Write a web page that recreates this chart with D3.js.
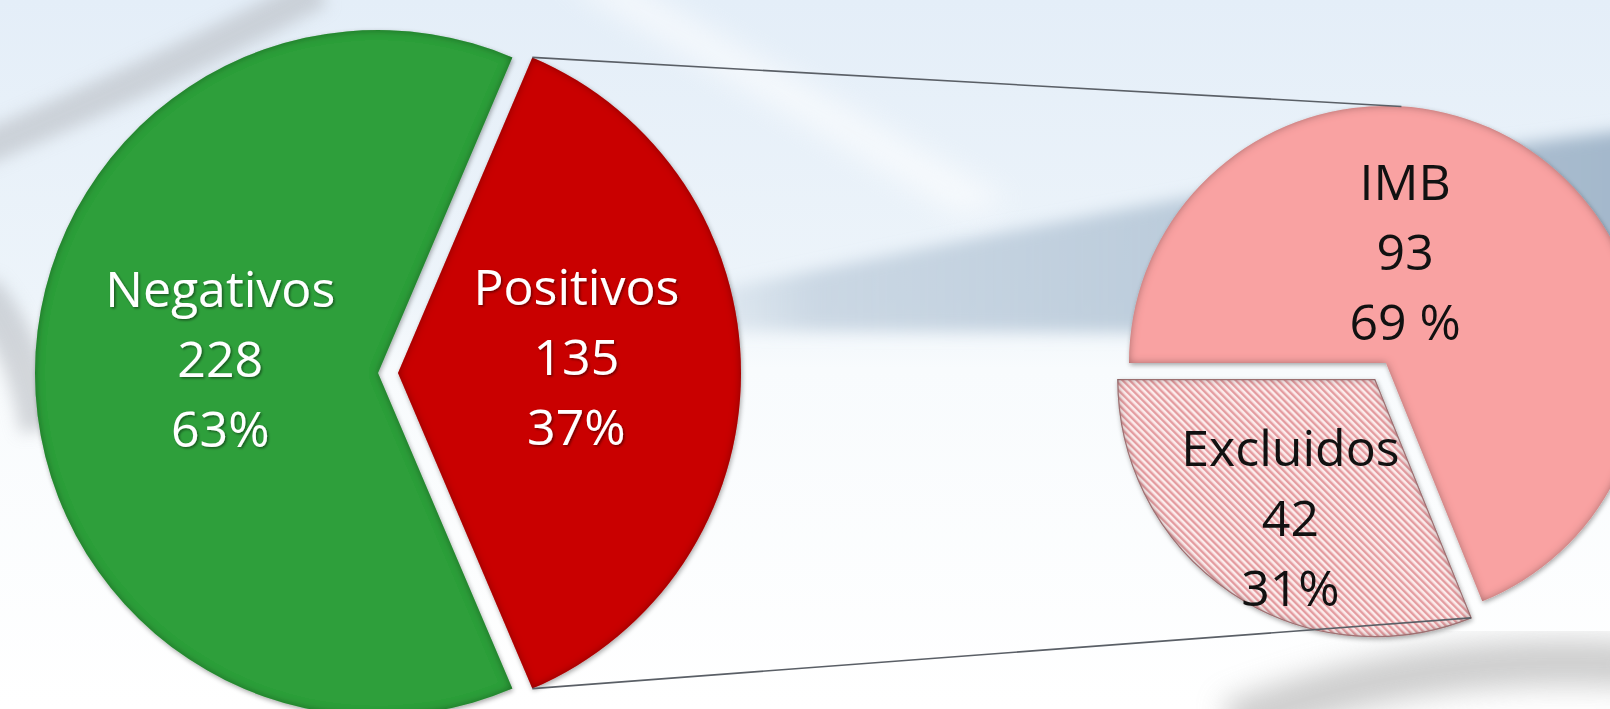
<!DOCTYPE html>
<html><head><meta charset="utf-8">
<script src="https://cdn.jsdelivr.net/npm/d3@7"></script>
<style>html,body{margin:0;padding:0;overflow:hidden;background:#fff}</style>
</head><body><svg id="chart" width="1610" height="709"></svg>
<script>
// ---- data ----
const mainCategories = ["Negativos", "Positivos"];
const mainValues = [228, 135];
const mainPercentLabels = ["63%", "37%"];
const subCategories = ["IMB", "Excluidos"];
const subValues = [93, 42];
const subPercentLabels = ["69 %", "31%"];

// ---- layout / style ----
const W = 1610, H = 709;
const mainColors = ["#2f9f3b", "#c90000"];
const subFills = ["#f9a2a2", "url(#hatch)"];
const MAIN = {cx: 378, cy: 373, r: 343, explode: [0, 20], labelR: [0.46, 0.52], labelDy: [-14, -16]};
const SUB = {cx: 1386, cy: 363, r: 257, explode: [0, 20], topAngle: 0.06};
const FS = 50, LH = 70;

const svg = d3.select("#chart");
const defs = svg.append("defs");

// background gradient
const bg = defs.append("linearGradient").attr("id", "bg").attr("x1", 0).attr("y1", 0).attr("x2", 0).attr("y2", 1);
[[0, "#e4eef8"], [0.42, "#edf4fa"], [0.52, "#f8fbfd"], [1, "#ffffff"]].forEach(s => bg.append("stop").attr("offset", s[0]).attr("stop-color", s[1]));
const band = defs.append("linearGradient").attr("id", "band").attr("x1", 0).attr("y1", 0).attr("x2", 1).attr("y2", 0);
[[0, "#b5c6d6", 0], [0.18, "#b3c4d5", 0.6], [0.6, "#adc0d2", 0.8], [1, "#9fb4c8", 0.95]].forEach(s => band.append("stop").attr("offset", s[0]).attr("stop-color", s[1]).attr("stop-opacity", s[2]));
[["blur8", 8], ["blur14", 14], ["blur20", 20]].forEach(b => defs.append("filter").attr("id", b[0]).attr("x", "-50%").attr("y", "-50%").attr("width", "200%").attr("height", "200%")
  .append("feGaussianBlur").attr("stdDeviation", b[1]));

// hatch pattern
const pat = defs.append("pattern").attr("id", "hatch").attr("patternUnits", "userSpaceOnUse")
  .attr("width", 5).attr("height", 5).attr("patternTransform", "rotate(-45)");
pat.append("rect").attr("width", 5).attr("height", 5).attr("fill", "#fcecec");
pat.append("rect").attr("width", 2.4).attr("height", 5).attr("fill", "#e49ca0");

// slice filter: inner shadow + small drop shadow
const f = defs.append("filter").attr("id", "slice").attr("x", "-10%").attr("y", "-10%").attr("width", "120%").attr("height", "120%");
f.append("feGaussianBlur").attr("in", "SourceAlpha").attr("stdDeviation", 2.5).attr("result", "db");
f.append("feOffset").attr("in", "db").attr("dx", 1).attr("dy", 2).attr("result", "dbo");
f.append("feComponentTransfer").attr("in", "dbo").attr("result", "drop").append("feFuncA").attr("type", "linear").attr("slope", 0.35);
f.append("feFlood").attr("flood-color", "#000").attr("flood-opacity", 0.65).attr("result", "fl");
f.append("feComposite").attr("in", "fl").attr("in2", "SourceAlpha").attr("operator", "out").attr("result", "outside");
f.append("feGaussianBlur").attr("in", "outside").attr("stdDeviation", 4).attr("result", "ob");
f.append("feComposite").attr("in", "ob").attr("in2", "SourceAlpha").attr("operator", "in").attr("result", "inner");
const fm = f.append("feMerge");
fm.append("feMergeNode").attr("in", "drop");
fm.append("feMergeNode").attr("in", "SourceGraphic");
fm.append("feMergeNode").attr("in", "inner");

// text shadow
const ts = defs.append("filter").attr("id", "tshadow").attr("x", "-10%").attr("y", "-30%").attr("width", "120%").attr("height", "160%");
ts.append("feDropShadow").attr("dx", 1.5).attr("dy", 1.5).attr("stdDeviation", 1.2).attr("flood-color", "#000").attr("flood-opacity", 0.45);

// ---- background ----
svg.append("rect").attr("width", W).attr("height", H).attr("fill", "url(#bg)");
svg.append("path").attr("d", "M640,305 C900,255 1250,175 1630,130 L1630,335 L640,330 Z").attr("fill", "url(#band)").attr("filter", "url(#blur8)");
svg.append("path").attr("d", "M560,-20 L960,215 L1010,200 L620,-20 Z").attr("fill", "#ffffff").attr("opacity", 0.6).attr("filter", "url(#blur14)");
svg.append("path").attr("d", "M320,-10 Q170,70 -20,150").attr("fill", "none").attr("stroke", "#b9bdc3").attr("stroke-width", 34).attr("opacity", 0.6).attr("filter", "url(#blur8)");
svg.append("path").attr("d", "M-20,290 Q25,340 40,430").attr("fill", "none").attr("stroke", "#b9bdc3").attr("stroke-width", 40).attr("opacity", 0.6).attr("filter", "url(#blur8)");
svg.append("path").attr("d", "M1230,725 Q1420,650 1640,665").attr("fill", "none").attr("stroke", "#bdbdbd").attr("stroke-width", 46).attr("opacity", 0.75).attr("filter", "url(#blur14)");

// ---- pies ----
const mainData = mainCategories.map((c, i) => ({cat: c, value: mainValues[i], pct: mainPercentLabels[i], i}));
const subData = subCategories.map((c, i) => ({cat: c, value: subValues[i], pct: subPercentLabels[i], i}));
const mainTotal = d3.sum(mainValues);
const mStart = Math.PI / 2 + Math.PI * mainValues[1] / mainTotal;
const mainArcs = d3.pie().sort(null).value(d => d.value).startAngle(mStart).endAngle(mStart + 2 * Math.PI)(mainData);
const sStart = 3 * Math.PI / 2;
const subArcs = d3.pie().sort(null).value(d => d.value).startAngle(sStart).endAngle(sStart + 2 * Math.PI)(subData);

const mainArc = d3.arc().innerRadius(0).outerRadius(MAIN.r);
const subArc = d3.arc().innerRadius(0).outerRadius(SUB.r);
const off = (a, d) => { const m = (a.startAngle + a.endAngle) / 2; return [d * Math.sin(m), -d * Math.cos(m)]; };
const pt = (cx, cy, r, ang) => [cx + r * Math.sin(ang), cy - r * Math.cos(ang)];

const gMain = svg.append("g").attr("transform", `translate(${MAIN.cx},${MAIN.cy})`);
gMain.selectAll("path").data(mainArcs).join("path")
  .attr("transform", d => { const o = off(d, MAIN.explode[d.index]); return `translate(${o[0]},${o[1]})`; })
  .attr("d", mainArc).attr("fill", d => mainColors[d.index]).attr("filter", "url(#slice)");

const gSub = svg.append("g").attr("transform", `translate(${SUB.cx},${SUB.cy})`);
gSub.selectAll("path").data(subArcs).join("path")
  .attr("transform", d => { const o = off(d, SUB.explode[d.index]); return `translate(${o[0]},${o[1]})`; })
  .attr("d", subArc).attr("fill", d => subFills[d.index])
  .attr("stroke", d => d.index === 1 ? "#b88486" : "none").attr("stroke-width", 1.2)
  .attr("filter", "url(#slice)");

// connector (series) lines, drawn on top
const pos = mainArcs[1], posOff = off(pos, MAIN.explode[1]);
const exc = subArcs[1], excOff = off(exc, SUB.explode[1]);
const topA = pt(MAIN.cx + posOff[0], MAIN.cy + posOff[1], MAIN.r, pos.startAngle);
const botA = pt(MAIN.cx + posOff[0], MAIN.cy + posOff[1], MAIN.r, pos.endAngle);
const topB = pt(SUB.cx, SUB.cy, SUB.r, SUB.topAngle);
const botB = pt(SUB.cx + excOff[0], SUB.cy + excOff[1], SUB.r, exc.startAngle);
svg.append("g").selectAll("line").data([[topA, topB], [botA, botB]]).join("line")
  .attr("x1", d => d[0][0]).attr("y1", d => d[0][1]).attr("x2", d => d[1][0]).attr("y2", d => d[1][1])
  .attr("stroke", "#5a5f66").attr("stroke-width", 1.6);

// ---- labels ----
function drawLabel(g, x, y, lines, color, shadow) {
  const t = g.append("text").attr("text-anchor", "middle").attr("font-family", "'Open Sans', sans-serif")
    .attr("font-size", FS).attr("fill", color);
  if (shadow) t.attr("filter", "url(#tshadow)");
  lines.forEach((s, k) => t.append("tspan").attr("x", x).attr("y", y + (k - 1) * LH + 0.36 * FS).text(s));
}
mainArcs.forEach(d => {
  const o = off(d, MAIN.explode[d.index]);
  const m = (d.startAngle + d.endAngle) / 2;
  const p = pt(o[0], o[1], MAIN.r * MAIN.labelR[d.index], m);
  drawLabel(gMain, p[0], p[1] + MAIN.labelDy[d.index], [d.data.cat, d.data.value, d.data.pct], "#ffffff", true);
});
// sub labels: IMB placed in the upper part, Excluidos along its bisector
const subLabelPos = [[0.17, 0.44], [3.69, 0.63]]; // [angle, radius fraction]
subArcs.forEach(d => {
  const o = off(d, SUB.explode[d.index]);
  const p = pt(o[0], o[1], SUB.r * subLabelPos[d.index][1], subLabelPos[d.index][0]);
  drawLabel(gSub, p[0], p[1], [d.data.cat, d.data.value, d.data.pct], "#111111", false);
});
</script></body></html>
